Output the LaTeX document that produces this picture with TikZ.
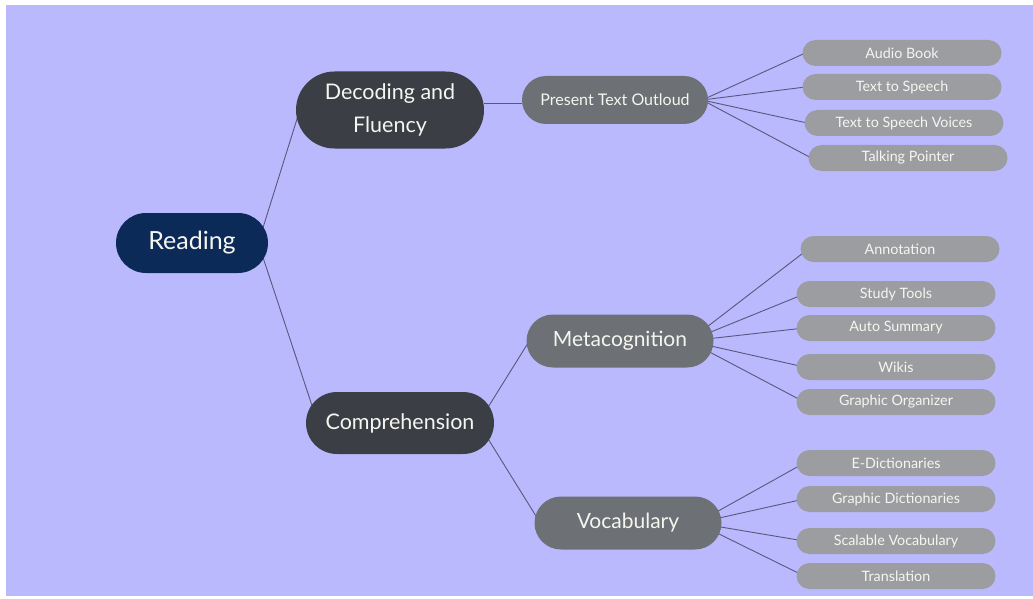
\documentclass[tikz,border=0pt]{standalone}
\usepackage{fontspec}
\setmainfont{Lato}
\usetikzlibrary{shapes.misc,backgrounds}
\definecolor{lavender}{RGB}{187,185,254}
\definecolor{rootblue}{RGB}{12,42,88}
\definecolor{darkgrey}{RGB}{59,62,69}
\definecolor{midgrey}{RGB}{109,112,116}
\definecolor{leafgrey}{RGB}{155,157,161}
\definecolor{branch}{RGB}{88,88,124}
\definecolor{paper}{RGB}{246,246,240}
\begin{document}
\begin{tikzpicture}[x=1pt,y=-1pt,
  pill/.style={rounded rectangle, inner sep=0pt, text=paper, align=center},
  root/.style={pill, fill=rootblue, minimum width=152pt, minimum height=60pt, font=\fontsize{25}{30}\selectfont},
  topic/.style={pill, fill=darkgrey, minimum width=188pt, font=\fontsize{21.5}{33}\selectfont},
  sub/.style={pill, fill=midgrey, minimum width=187pt, minimum height=53pt, font=\fontsize{21}{25}\selectfont},
  leaf/.style={pill, fill=leafgrey, minimum width=199pt, minimum height=26pt, font=\fontsize{14.3}{16}\selectfont},
  link/.style={draw=branch, line width=0.9pt}]
\useasboundingbox (0,0) rectangle (1033,599);
\begin{pgfonlayer}{background}
\fill[white] (0,0) rectangle (1033,599);
\fill[lavender] (6,5) rectangle (1033,596);
\end{pgfonlayer}

\node[root] (reading) at (192,243) {Reading};
\node[topic, minimum height=77pt] (decoding) at (390,110) {Decoding and\\Fluency};
\node[topic, minimum height=62pt] (comprehension) at (400,423) {Comprehension};

\node[sub, minimum width=186pt, minimum height=48pt, font=\fontsize{16}{20}\selectfont] (outloud) at (615,100) {Present Text Outloud};
\node[sub] (metacog) at (620,341) {Metacognition};
\node[sub] (vocab) at (628,523) {Vocabulary};

\node[leaf] (audio) at (902,53) {Audio Book};
\node[leaf] (tts) at (902,87) {Text to Speech};
\node[leaf] (voices) at (904,123) {Text to Speech Voices};
\node[leaf] (pointer) at (908,158) {Talking Pointer};

\node[leaf] (annot) at (900,249) {Annotation};
\node[leaf] (study) at (896,294) {Study Tools};
\node[leaf] (summary) at (896,328) {Auto Summary};
\node[leaf] (wikis) at (896,367) {Wikis};
\node[leaf] (organizer) at (896,402) {Graphic Organizer};

\node[leaf] (edict) at (896,463) {E-Dictionaries};
\node[leaf] (gdict) at (896,499) {Graphic Dictionaries};
\node[leaf] (scalable) at (896,541) {Scalable Vocabulary};
\node[leaf] (translation) at (896,576) {Translation};

\begin{pgfonlayer}{background}
\path[link] ([xshift=-10pt]reading.east) -- ([xshift=4pt]decoding.west);
\path[link] ([xshift=-10pt]reading.east) -- ([xshift=12pt]comprehension.west);
\path[link] ([yshift=-3pt]outloud.west -| decoding.east) -- ([yshift=-3pt]outloud.west);
\path[link] ([xshift=-16pt]comprehension.east) -- ([xshift=3pt]metacog.west);
\path[link] ([xshift=-16pt]comprehension.east) -- ([xshift=6pt]vocab.west);

\path[link] ([xshift=-6pt]outloud.east) -- ([xshift=3pt]audio.west);
\path[link] ([xshift=-6pt]outloud.east) -- ([xshift=3pt]tts.west);
\path[link] ([xshift=-6pt]outloud.east) -- ([xshift=3pt]voices.west);
\path[link] ([xshift=-6pt]outloud.east) -- ([xshift=3pt]pointer.west);

\path[link] ([xshift=-25pt]metacog.east) -- ([xshift=8pt]annot.west);
\path[link] ([xshift=-25pt]metacog.east) -- ([xshift=8pt]study.west);
\path[link] ([xshift=-25pt]metacog.east) -- ([xshift=8pt]summary.west);
\path[link] ([xshift=-25pt]metacog.east) -- ([xshift=8pt]wikis.west);
\path[link] ([xshift=-25pt]metacog.east) -- ([xshift=8pt]organizer.west);

\path[link] ([xshift=-25pt]vocab.east) -- ([xshift=8pt]edict.west);
\path[link] ([xshift=-25pt]vocab.east) -- ([xshift=8pt]gdict.west);
\path[link] ([xshift=-25pt]vocab.east) -- ([xshift=8pt]scalable.west);
\path[link] ([xshift=-25pt]vocab.east) -- ([xshift=8pt]translation.west);
\end{pgfonlayer}
\end{tikzpicture}
\end{document}
